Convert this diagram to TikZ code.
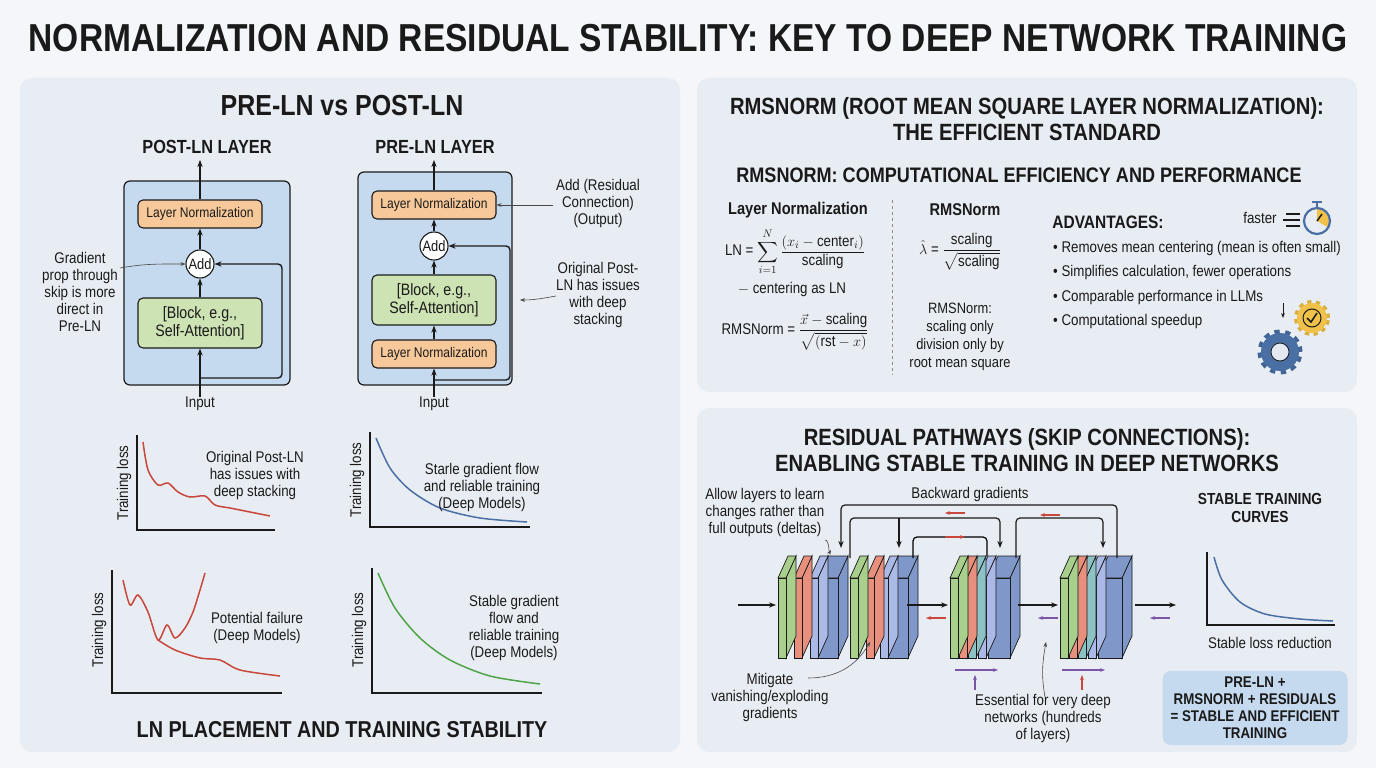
\documentclass[tikz,border=0pt]{standalone}
\usepackage{amsmath}
\usepackage{fontspec}
\setmainfont[FakeStretch=0.86]{Liberation Sans}
\usetikzlibrary{arrows.meta,calc}
\definecolor{bg}{HTML}{F4F6F9}
\definecolor{panel}{HTML}{E8EDF3}
\definecolor{lay}{HTML}{C6DAEF}
\definecolor{orng}{HTML}{F7C899}
\definecolor{grn}{HTML}{CDE3B4}
\definecolor{ink}{HTML}{1A1A1A}
\definecolor{cred}{HTML}{C9473B}
\definecolor{cblue}{HTML}{4A6FA5}
\definecolor{cgreen}{HTML}{4FA44A}
\definecolor{sG}{HTML}{A8CF8B}
\definecolor{sR}{HTML}{E8907D}
\definecolor{sB}{HTML}{AAB9E6}
\definecolor{sT}{HTML}{8CC1C6}
\definecolor{sBig}{HTML}{7F97C9}
\definecolor{purp}{HTML}{7B55A8}
\definecolor{gold}{HTML}{F0C24A}
\begin{document}
\begin{tikzpicture}[x=1pt,y=-1pt,
  every node/.style={text=ink,align=center,inner sep=0pt},
  txt/.style={font=\fontsize{15.5}{17}\selectfont},
  bold/.style={font=\fontsize{19}{21}\selectfont\bfseries},
  head/.style={font=\fontsize{23.5}{26}\selectfont\bfseries},
  pan/.style={fill=panel,rounded corners=12pt,draw=none},
  lbox/.style={draw=ink,line width=1.2pt,fill=lay,rounded corners=6pt},
  ln/.style={draw=ink,line width=1.1pt,fill=orng,rounded corners=5pt,minimum width=124pt,minimum height=28pt,font=\fontsize{14}{16}\selectfont},
  blk/.style={draw=ink,line width=1.1pt,fill=grn,rounded corners=5pt,minimum width=124pt,minimum height=50pt,font=\fontsize{16.5}{18}\selectfont},
  addc/.style={draw=ink,line width=1.1pt,fill=white,circle,minimum size=28pt,font=\fontsize{15}{16}\selectfont},
  ar/.style={-{Stealth[length=7pt]},line width=1.4pt,draw=ink},
  thin/.style={-{Stealth[length=5pt]},line width=0.6pt,draw=ink!80},
  axis/.style={line width=1.2pt,draw=ink},
  cur/.style={line width=1.5pt},
  sml/.style={-{Stealth[length=5pt]},line width=1.3pt}]
\useasboundingbox (0,0) rectangle (1376,768);
\fill[bg] (0,0) rectangle (1376,768);
\node[font=\fontsize{39}{44}\selectfont\bfseries] (T) at (688,38) {NORMALIZATION AND RESIDUAL STABILITY: KEY TO DEEP NETWORK TRAINING};
\fill[pan] (20,78) rectangle (680,752);
\fill[pan] (697,78) rectangle (1357,392);
\fill[pan] (697,408) rectangle (1357,752);

% ---------- left panel
\node[font=\fontsize{29}{32}\selectfont\bfseries] (LT) at (342,106) {PRE-LN vs POST-LN};
\node[bold] (PT) at (207,147) {POST-LN LAYER};
\node[bold] (RT) at (435,147) {PRE-LN LAYER};
\draw[lbox] (124,181) rectangle (290,385);
\node[ln] (pln) at (200,214) {Layer Normalization};
\node[addc] (padd) at (200,264) {Add};
\node[blk] (pblk) at (200,323) {[Block, e.g.,\\Self-Attention]};
\node[txt] (pin) at (200,404) {Input};
\coordinate (ptop) at (200,160);
\coordinate (pskip) at (200,378);
\draw[ar] (pin.north) -- (pblk.south);
\draw[ar] (pblk) -- (padd);
\draw[ar] (padd) -- (pln);
\draw[ar] (pln) -- (ptop);
\draw[ar,rounded corners=4pt] (pskip) -- (282,378) -- (282,264) -- (padd.east);
\node[txt] (gl) at (80,292) {Gradient\\prop through\\skip is more\\direct in\\Pre-LN};
\draw[thin] (120,268) to[out=10,in=180] (padd.west);

\draw[lbox] (358,172) rectangle (512,385);
\node[ln] (qln) at (434,205) {Layer Normalization};
\node[addc] (qadd) at (434,246) {Add};
\node[blk] (qblk) at (434,300) {[Block, e.g.,\\Self-Attention]};
\node[ln] (qln2) at (434,354) {Layer Normalization};
\node[txt] (qin) at (434,404) {Input};
\coordinate (qtop) at (434,160);
\coordinate (qskip) at (434,380);
\draw[ar] (qin.north) -- (qln2.south);
\draw[ar] (qln2) -- (qblk);
\draw[ar] (qblk) -- (qadd);
\draw[ar] (qadd) -- (qln);
\draw[ar] (qln) -- (qtop);
\draw[ar,rounded corners=4pt] (qskip) -- (510,380) -- (510,246) -- (qadd.east);
\node[txt] (an1) at (598,203) {Add (Residual\\Connection)\\(Output)};
\draw[thin] (553,205) -- (qln.east);
\node[txt] (an2) at (598,295) {Original Post-\\LN has issues\\with deep\\stacking};
\coordinate (an2t) at (520,300);
\draw[thin] (556,296) to[out=190,in=0] (an2t);

% charts
\draw[axis] (137,435) -- (137,530) -- (275,530);
\node[txt,rotate=90] (y1) at (124,483) {Training loss};
\draw[cur,cred] plot[smooth] coordinates {(143,442) (148,470) (158,485) (168,483) (178,492) (190,497) (205,496) (215,505) (230,508) (245,511) (255,513) (270,516)};
\node[txt] (c1) at (255,475) {Original Post-LN\\has issues with\\deep stacking};
\draw[axis] (370,432) -- (370,527) -- (530,527);
\node[txt,rotate=90] (y2) at (357,480) {Training loss};
\draw[cur,cblue] plot[smooth] coordinates {(376,438) (390,468) (410,490) (440,508) (480,518) (527,522)};
\node[txt] (c2) at (482,487) {Starle gradient flow\\and reliable training\\(Deep Models)};
\draw[axis] (112,570) -- (112,693) -- (282,693);
\node[txt,rotate=90] (y3) at (99,630) {Training loss};
\draw[cur,cred] plot[smooth] coordinates {(123,580) (130,605) (138,595) (148,612) (158,640) (167,625) (175,638) (185,628) (193,612) (200,590) (205,573)};
\draw[cur,cred] plot[smooth] coordinates {(158,640) (175,650) (200,658) (220,660) (240,670) (280,676)};
\node[txt] (c3) at (257,628) {Potential failure\\(Deep Models)};
\draw[axis] (372,568) -- (372,693) -- (542,693);
\node[txt,rotate=90] (y4) at (359,630) {Training loss};
\draw[cur,cgreen] plot[smooth] coordinates {(378,573) (395,608) (420,638) (450,660) (490,676) (540,684)};
\node[txt] (c4) at (514,628) {Stable gradient\\flow and\\reliable training\\(Deep Models)};
\node[font=\fontsize{23}{25}\selectfont\bfseries] (LB) at (342,730) {LN PLACEMENT AND TRAINING STABILITY};

% ---------- right top
\node[head] (RT1) at (1027,119) {RMSNORM (ROOT MEAN SQUARE LAYER NORMALIZATION):\\THE EFFICIENT STANDARD};
\node[font=\fontsize{21}{23}\selectfont\bfseries] (RT2) at (1019,175) {RMSNORM: COMPUTATIONAL EFFICIENCY AND PERFORMANCE};
\node[font=\fontsize{17}{19}\selectfont\bfseries] (h1) at (798,210) {Layer Normalization};
\node[font=\fontsize{17}{19}\selectfont\bfseries] (h2) at (965,210) {RMSNorm};
\draw[dashed,ink!50,line width=0.6pt] (892,200) -- (892,375);
\node[txt] (f1) at (795,252) {LN = $\displaystyle\sum_{i=1}^{N}\frac{(x_i-\text{center}_i)}{\text{scaling}}$};
\node[txt] (f2) at (792,289) {$-$ centering as LN};
\node[txt] (f3) at (795,332) {RMSNorm = $\dfrac{\vec{x}-\text{scaling}}{\sqrt{(\text{rst}-x)}}$};
\node[txt] (f4) at (960,252) {$\hat\lambda$ = $\dfrac{\text{scaling}}{\sqrt{\text{scaling}}}$};
\node[txt,font=\fontsize{15}{18}\selectfont] (f5) at (960,337) {RMSNorm:\\scaling only\\division only by\\root mean square};
\node[font=\fontsize{18}{20}\selectfont\bfseries] (adv) at (1108,222) {ADVANTAGES:};
\node[txt,anchor=west] (b1) at (1053,248) {• Removes mean centering (mean is often small)};
\node[txt,anchor=west] (b2) at (1053,272) {• Simplifies calculation, fewer operations};
\node[txt,anchor=west] (b3) at (1053,297) {• Comparable performance in LLMs};
\node[txt,anchor=west] (b4) at (1053,321) {• Computational speedup};
\node[txt] (fa) at (1260,218) {faster};
% stopwatch
\fill[gold] (1317,221) -- (1317,208) arc[start angle=90,end angle=-30,radius=13pt] -- cycle;
\draw[cblue,line width=2.2pt] (1317,221) circle (13pt);
\draw[cblue,line width=2pt] (1317,208) -- (1317,203);
\draw[cblue,line width=2.2pt] (1312,202) -- (1322,202);
\draw[ink,line width=1.5pt] (1317,221) -- (1322,214);
\draw[ink,line width=1.2pt] (1286,214) -- (1300,214) (1283,220) -- (1300,220) (1286,226) -- (1300,226);
% gears
\draw[gold!90!black,line width=6pt,dash pattern=on 4pt off 4pt] (1312,318) circle (15pt);
\fill[gold] (1312,318) circle (15pt);
\draw[ink,line width=1pt] (1312,318) circle (9pt);
\draw[ink,line width=1.5pt] (1307,318) -- (1311,322) -- (1317,313);
\draw[cblue!90!black,line width=7pt,dash pattern=on 5pt off 5pt] (1280,352) circle (19pt);
\fill[cblue] (1280,352) circle (19pt);
\fill[white!85!cblue] (1280,352) circle (9pt);
\draw[ink,line width=0.8pt] (1280,352) circle (9pt);
\draw[ink,line width=1pt,-{Stealth[length=5pt]}] (1283,303) -- (1283,318);

% ---------- right bottom
\node[head] (RB1) at (1027,450) {RESIDUAL PATHWAYS (SKIP CONNECTIONS):\\ENABLING STABLE TRAINING IN DEEP NETWORKS};
\node[txt] (al) at (765,512) {Allow layers to learn\\changes rather than\\full outputs (deltas)};
\node[txt] (bw) at (970,494) {Backward gradients};
\newcommand{\myslab}[3]{%
  \filldraw[#3,draw=ink,line width=0.7pt] (#1+#2,578) -- (#1+#2+10,556) -- (#1+#2+10,636) -- (#1+#2,658) -- cycle;
  \filldraw[#3,draw=ink,line width=0.7pt] (#1,578) -- (#1+10,556) -- (#1+#2+10,556) -- (#1+#2,578) -- cycle;
  \filldraw[#3,draw=ink,line width=0.7pt] (#1,578) rectangle (#1+#2,658);}
\myslab{818}{20}{sBig}\myslab{810}{8}{sB}\myslab{794}{8}{sR}\myslab{778}{8}{sG}
\myslab{888}{20}{sBig}\myslab{880}{8}{sB}\myslab{866}{8}{sR}\myslab{850}{8}{sG}
\myslab{988}{22}{sBig}\myslab{978}{8}{sB}\myslab{968}{8}{sT}\myslab{959}{8}{sR}\myslab{950}{8}{sG}
\myslab{1098}{24}{sBig}\myslab{1088}{8}{sB}\myslab{1078}{8}{sT}\myslab{1069}{8}{sR}\myslab{1060}{8}{sG}
\coordinate (g1t) at (841,548); \coordinate (g2t) at (899,548); \coordinate (g3t) at (1000,548); \coordinate (g4t) at (1103,548);
\coordinate (g1s) at (850,558); \coordinate (g2s) at (913,558); \coordinate (g3s) at (1016,558); \coordinate (g4s) at (1117,558);
\draw[ar,line width=1.2pt,rounded corners=4pt] (g4s) -- (1117,505) -- (841,505) -- (g1t);
\draw[ar,line width=1.2pt,rounded corners=4pt] (g1s) -- (850,518) -- (1000,518) -- (g3t);
\draw[ar,line width=1.2pt] (899,518) -- (g2t);
\draw[line width=1.2pt,rounded corners=4pt] (g2s) -- (913,537) -- (987,537) -- (987,556);
\draw[ar,line width=1.2pt,rounded corners=4pt] (g3s) -- (1016,518) -- (1103,518) -- (g4t);
\draw[sml,cred] (965,513) -- (945,513);
\draw[sml,cred] (1060,515) -- (1040,515);
\draw[sml,cred] (945,537) -- (965,537);
\coordinate (in0) at (738,605); \coordinate (e1) at (776,605);
\draw[ar,line width=1.2pt] (in0) -- (e1);
\draw[ar,line width=1.2pt] (907,605) -- (948,605);
\draw[ar,line width=1.2pt] (1018,605) -- (1058,605);
\draw[ar,line width=1.2pt] (1135,605) -- (1176,605);
\draw[sml,cred] (946,618) -- (926,618);
\draw[sml,purp] (1058,618) -- (1038,618);
\draw[sml,purp] (1170,618) -- (1150,618);
\draw[sml,purp] (955,670) -- (998,670);
\draw[sml,purp] (975,690) -- (975,675);
\draw[sml,purp] (1062,670) -- (1105,670);
\draw[sml,cred] (1082,690) -- (1082,675);
\node[txt] (mi) at (770,697) {Mitigate\\vanishing/exploding\\gradients};
\draw[thin] (808,678) to[out=0,in=240] (870,642);
\draw[thin] (825,540) to[out=0,in=240] (831,550);
\node[txt] (es) at (1043,718) {Essential for very deep\\networks (hundreds\\of layers)};
\draw[thin] (1045,697) to[out=100,in=260] (1046,642);
\node[font=\fontsize{16}{18}\selectfont\bfseries] (st) at (1260,508) {STABLE TRAINING\\CURVES};
\draw[axis] (1207,552) -- (1207,625) -- (1335,625);
\draw[cur,cblue] plot[smooth] coordinates {(1214,557) (1222,580) (1240,602) (1265,614) (1300,619) (1333,621)};
\node[txt] (sl) at (1270,643) {Stable loss reduction};
\node[fill=lay,rounded corners=8pt,minimum width=185pt,minimum height=74pt,font=\fontsize{15.5}{17}\selectfont\bfseries] (fin) at (1255,708) {PRE-LN +\\RMSNORM + RESIDUALS\\= STABLE AND EFFICIENT\\TRAINING};
\end{tikzpicture}
\end{document}
